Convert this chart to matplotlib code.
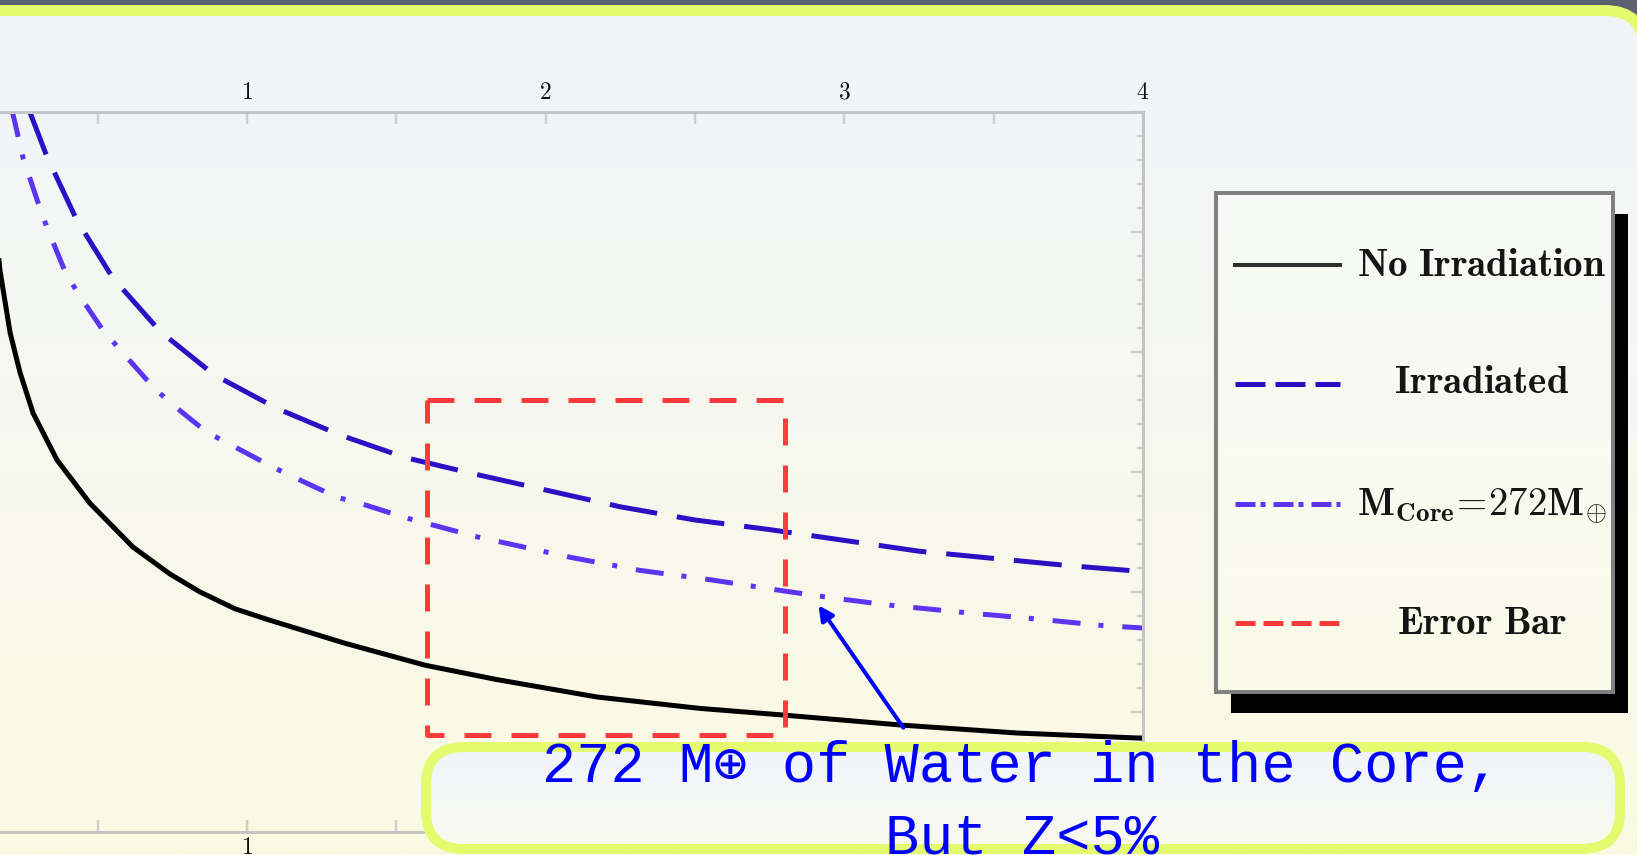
import numpy as np
import matplotlib
matplotlib.use("Agg")
import matplotlib.pyplot as plt
from matplotlib.patches import FancyBboxPatch, Rectangle
from matplotlib.lines import Line2D
from matplotlib.colors import to_rgb

plt.rcParams['mathtext.fontset'] = 'cm'
plt.rcParams['lines.scale_dashes'] = False

# Curva sin irradiacion (negra)
x_sin_irr = [0.16, 0.173, 0.207, 0.24, 0.284, 0.364, 0.474, 0.618, 0.742, 0.843, 0.96,
             1.07, 1.325, 1.596, 1.837, 2.172, 2.516, 2.794, 3.196, 3.578, 4.013]
y_sin_irr = [5.0, 4.68, 4.16, 3.83, 3.49, 3.10, 2.74, 2.375, 2.15, 2.0, 1.86,
             1.77, 1.575, 1.39, 1.27, 1.125, 1.03, 0.975, 0.89, 0.825, 0.78]

# Curva irradiada (azul, rayas)
x_irr = [0.27, 0.33, 0.43, 0.55, 0.71, 0.89, 1.10, 1.31, 1.53, 1.75, 2.0, 2.25,
         2.5, 2.75, 3.0, 3.25, 3.5, 3.75, 4.0]
y_irr = [6.02, 5.63, 5.10, 4.62, 4.17, 3.81, 3.53, 3.31, 3.12, 2.99, 2.85, 2.71,
         2.60, 2.52, 2.43, 2.34, 2.28, 2.22, 2.17]

# Curva con nucleo de 272 M_tierra (raya-punto)
x_nucleo = [0.213, 0.25, 0.297, 0.33, 0.391, 0.434, 0.518, 0.575, 0.685, 0.742, 0.866,
            0.936, 1.087, 1.154, 1.301, 1.378, 1.529, 1.77, 2.081, 2.316, 2.557, 2.794,
            2.962, 3.153, 3.397, 3.645, 3.866, 4.0]
y_nucleo = [6.02, 5.62, 5.27, 5.04, 4.67, 4.49, 4.18, 4.02, 3.71, 3.58, 3.33,
            3.24, 3.04, 2.96, 2.79, 2.74, 2.62, 2.46, 2.29, 2.18, 2.10, 2.01,
            1.95, 1.89, 1.83, 1.775, 1.72, 1.70]

# Caja de error
err_x = [1.603, 2.801]
err_y = [0.81, 3.60]

# Flecha
flecha_punta = (2.908, 1.908)
flecha_cola = (3.203, 0.85)

ticks_x = [1, 2, 3, 4]
etiquetas = [r'$\mathbf{No\ Irradiation}$', r'$\mathbf{Irradiated}$',
             r'$\mathbf{M_{Core}\!=\!272M_{\oplus}}$', r'$\mathbf{Error\ Bar}$']
texto_caja = ["272 M\u2295 of Water in the Core,", "But Z<5%"]

PT = 0.72  # px -> pt a 100 dpi
AMARILLO = '#e5fb6f'


def degradado(ax, patch, c_arriba, c_abajo, y0, y1, z):
    t = np.linspace(0, 1, 256)[:, None, None]
    a = np.array(to_rgb(c_arriba))
    b = np.array(to_rgb(c_abajo))
    img = a + (b - a) * t
    im = ax.imshow(img, extent=[0, 1637, y1, y0], aspect='auto', zorder=z,
                   interpolation='bilinear')
    im.set_clip_path(patch)


fig = plt.figure(figsize=(16.37, 8.55), dpi=100)
fig.patch.set_facecolor('#5d6170')

# Fondo de la diapositiva
ax_bg = fig.add_axes([0, 0, 1, 1], zorder=0)
ax_bg.axis('off')
marco = FancyBboxPatch((-100, 10.5), 1744.5, 2000, boxstyle='round,pad=0,rounding_size=40',
                       fc='none', ec=AMARILLO, lw=11 * PT, zorder=2)
ax_bg.add_patch(marco)
degradado(ax_bg, marco, '#f1f5fb', '#fbfae2', 0, 855, 1)
ax_bg.set_xlim(0, 1637)
ax_bg.set_ylim(855, 0)

# Grafico
ax = fig.add_axes([-51.7 / 1637, 23 / 855, 1194.7 / 1637, 720 / 855], zorder=1)
ax.set_facecolor('none')
ax.plot(x_sin_irr, y_sin_irr, color='black', lw=5 * PT, solid_joinstyle='round')
ax.plot(x_irr, y_irr, color='#2c10c4', lw=5 * PT, linestyle=(0, (48 * PT, 20 * PT)))
ax.plot(x_nucleo, y_nucleo, color='#5b35f2', lw=5 * PT,
        linestyle=(0, (28 * PT, 18 * PT, 5 * PT, 19 * PT)))
ax.plot([err_x[0], err_x[1], err_x[1], err_x[0], err_x[0]],
        [err_y[1], err_y[1], err_y[0], err_y[0], err_y[1]],
        color='#ff3a3a', lw=5 * PT, linestyle=(0, (27 * PT, 20 * PT)))
ax.annotate('', xy=flecha_punta, xytext=flecha_cola,
            arrowprops=dict(arrowstyle='-|>', color='#0000ff', lw=4 * PT, mutation_scale=22))

ax.set_xlim(0, 4)
ax.set_ylim(0, 6)
for lado in ['top', 'bottom', 'right']:
    ax.spines[lado].set_color('#c4c4c4')
    ax.spines[lado].set_linewidth(3 * PT)
ax.spines['left'].set_visible(False)

# abajo solo se ve el "1", el resto queda tapado por la caja de texto
ax.set_xticks([0] + ticks_x)
ax.set_xticklabels(['', r'$\mathbf{1}$', '', '', ''])
ax.set_xticks([0.5, 1.5, 2.5, 3.5], minor=True)
ax.tick_params(axis='x', which='both', direction='in', top=True, bottom=True,
               labeltop=False, labelbottom=True, length=12 * PT, width=2.5 * PT,
               color='#cfcfcf', labelsize=17, labelcolor='#111111', pad=2)
ax.set_yticks(range(0, 7))
ax.set_yticks(np.arange(0, 6.01, 0.2), minor=True)
ax.tick_params(axis='y', which='both', direction='in', left=False, right=True,
               labelleft=False, labelright=False, color='#cfcfcf', width=2.5 * PT)
ax.tick_params(axis='y', which='major', length=12 * PT)
ax.tick_params(axis='y', which='minor', length=6 * PT)

sec = ax.secondary_xaxis('top')
sec.set_xticks(ticks_x)
sec.set_xticklabels([r'$\mathbf{%d}$' % t for t in ticks_x])
sec.tick_params(length=0, pad=6, labelsize=17, labelcolor='#111111')
sec.spines['top'].set_visible(False)

# Leyenda y caja de texto
ax_top = fig.add_axes([0, 0, 1, 1], zorder=2)
ax_top.axis('off')
ax_top.set_facecolor('none')

ax_top.add_patch(Rectangle((1231, 214), 397, 499, fc='black', ec='none', zorder=3))
cuadro = Rectangle((1216, 193), 397, 499, fc='none', ec='#808080', lw=4 * PT, zorder=4)
ax_top.add_patch(cuadro)
degradado(ax_top, cuadro, '#f7f9f7', '#fbfbea', 193, 692, 3.5)

muestras = [
    dict(color='#303030', lw=4 * PT, linestyle='-'),
    dict(color='#2c10c4', lw=5 * PT, linestyle=(0, (30 * PT, 10 * PT))),
    dict(color='#5b35f2', lw=5 * PT, linestyle=(0, (20 * PT, 5 * PT, 5 * PT, 8 * PT))),
    dict(color='#ff3a3a', lw=5 * PT, linestyle=(0, (20 * PT, 8 * PT))),
]
filas_linea = [265, 384, 504, 623]
filas_texto = [276, 393, 514, 634]
for estilo, yl, yt, et in zip(muestras, filas_linea, filas_texto, etiquetas):
    ax_top.add_line(Line2D([1235, 1340], [yl, yl], zorder=5, **estilo))
    ax_top.text(1482, yt, et, fontsize=28, color='#151515', ha='center', va='baseline', zorder=5)

caja = FancyBboxPatch((426, 747), 1194, 102, boxstyle='round,pad=0,rounding_size=38',
                      fc='none', ec=AMARILLO, lw=10 * PT, zorder=3)
ax_top.add_patch(caja)
degradado(ax_top, caja, '#f1f5fb', '#f9f9ee', 747, 849, 2.5)
for yb, linea in zip([782, 853], texto_caja):
    ax_top.text(1022, yb, linea, family=['Liberation Mono', 'DejaVu Sans Mono'], fontsize=41,
                color='#0000ff', ha='center', va='baseline', zorder=6)

ax_top.set_xlim(0, 1637)
ax_top.set_ylim(855, 0)

plt.savefig("out.png", dpi=100, facecolor=fig.get_facecolor())
